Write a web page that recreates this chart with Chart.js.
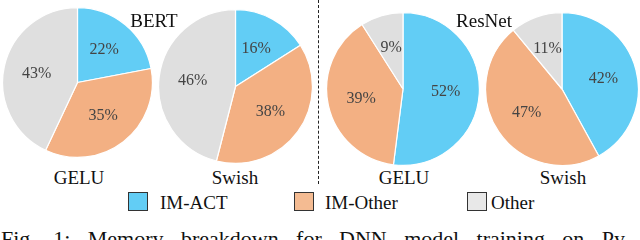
<!DOCTYPE html>
<html>
<head>
<meta charset="utf-8">
<script src="https://cdn.jsdelivr.net/npm/chart.js@4/dist/chart.umd.min.js"></script>
<style>
  html, body { margin: 0; padding: 0; background: #fff; }
  body { width: 640px; height: 240px; position: relative; overflow: hidden;
         font-family: 'Liberation Serif', 'Times New Roman', 'DejaVu Serif', serif; color: #111; }
  canvas { position: absolute; }
  .t { position: absolute; font-size: 19px; line-height: 1; white-space: nowrap; transform: translateX(-50%);
       font-family: 'Liberation Serif', 'Times New Roman', serif; }
  .sep { position: absolute; left: 318px; top: 0; height: 184px; width: 0;
         border-left: 1.3px dashed #222; }
  .lg { position: absolute; top: 192px; width: 20px; height: 19px; border: 1.3px solid #333; box-sizing: border-box; }
  .lt { position: absolute; top: 193px; font-size: 19px; line-height: 1; white-space: nowrap;
        font-family: 'Liberation Serif', 'Times New Roman', serif; }
  .cap { position: absolute; left: 1px; top: 228px; width: 624px; font-size: 22px; line-height: 1;
         white-space: nowrap; text-align: justify; text-align-last: justify;
         font-family: 'Liberation Serif', 'Times New Roman', serif; }
</style>
</head>
<body>
<canvas id="p1" width="151" height="151" style="left:2px;top:7px"></canvas>
<canvas id="p2" width="155" height="155" style="left:158px;top:9px"></canvas>
<canvas id="p3" width="154" height="154" style="left:326px;top:12px"></canvas>
<canvas id="p4" width="154" height="154" style="left:485px;top:12px"></canvas>

<div class="sep"></div>
<div class="t" style="left:154px;top:11px">BERT</div>
<div class="t" style="left:484px;top:11px">ResNet</div>
<div class="t" style="left:79px;top:168px">GELU</div>
<div class="t" style="left:235px;top:168px">Swish</div>
<div class="t" style="left:404px;top:168px">GELU</div>
<div class="t" style="left:563px;top:168px">Swish</div>

<div class="lg" style="left:128px;background:#62CDF5"></div>
<div class="lt" style="left:160px">IM-ACT</div>
<div class="lg" style="left:294px;background:#F4BB92"></div>
<div class="lt" style="left:325px">IM-Other</div>
<div class="lg" style="left:467px;background:#E8E8E8"></div>
<div class="lt" style="left:491px">Other</div>

<div class="cap">Fig. 1: Memory breakdown for DNN model training on Py</div>

<script>
// categories + per-pie shares (%), order = clockwise from 12 o'clock
const categories  = ['IM-ACT', 'IM-Other', 'Other'];
const bertGelu    = [22, 35, 43];
const bertSwish   = [16, 38, 46];
const resnetGelu  = [52, 39, 9];
const resnetSwish = [42, 47, 11];

const COLORS = ['#62CDF5', '#F3B083', '#DFDFDF'];

// draws "NN%" inside each slice
const pctLabels = {
  id: 'pctLabels',
  afterDatasetsDraw(chart) {
    const ctx = chart.ctx;
    const meta = chart.getDatasetMeta(0);
    const data = chart.data.datasets[0].data;
    ctx.save();
    ctx.font = "16px 'Liberation Serif', 'Times New Roman', serif";
    ctx.fillStyle = '#444';
    ctx.textAlign = 'center';
    ctx.textBaseline = 'middle';
    meta.data.forEach((arc, i) => {
      const mid = (arc.startAngle + arc.endAngle) / 2;
      const d = arc.outerRadius * 0.56;
      ctx.fillText(data[i] + '%', arc.x + Math.cos(mid) * d, arc.y + Math.sin(mid) * d);
    });
    ctx.restore();
  }
};

function pie(id, values) {
  return new Chart(document.getElementById(id), {
    type: 'pie',
    data: { labels: categories, datasets: [{ data: values, backgroundColor: COLORS,
      borderColor: '#fff', borderWidth: 1.2, hoverOffset: 0 }] },
    options: {
      responsive: false, animation: false,
      layout: { padding: 0 },
      plugins: { legend: { display: false }, tooltip: { enabled: false } },
    },
    plugins: [pctLabels],
  });
}

pie('p1', bertGelu);
pie('p2', bertSwish);
pie('p3', resnetGelu);
pie('p4', resnetSwish);
</script>
</body>
</html>
